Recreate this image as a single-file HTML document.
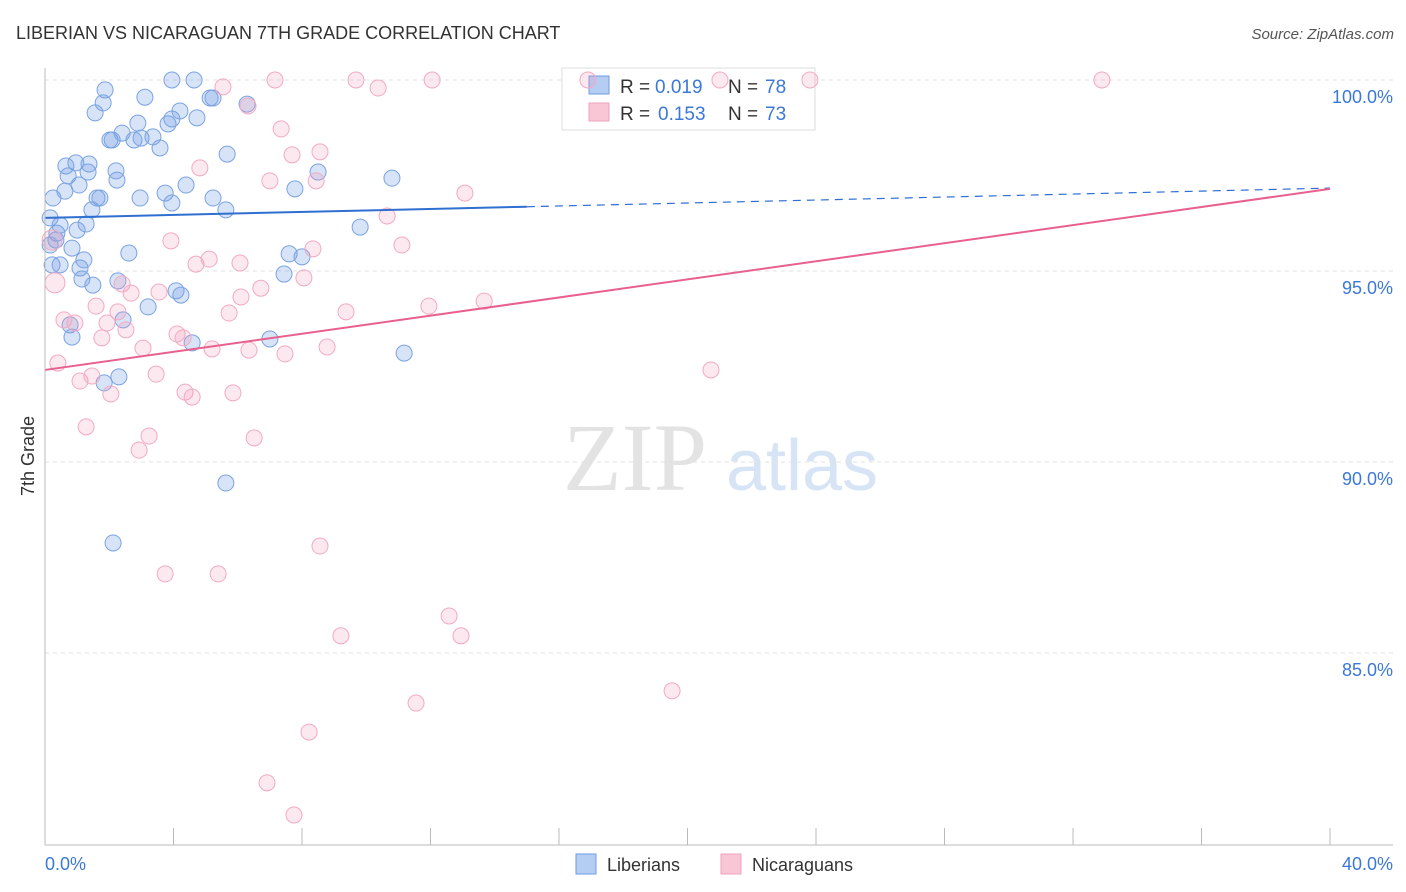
<!DOCTYPE html>
<html><head><meta charset="utf-8"><style>
body{margin:0;background:#fff;font-family:"Liberation Sans",sans-serif;}
svg{display:block}
</style></head><body>
<svg id="c" width="1406" height="892">
<text x="16" y="39" font-size="18" fill="#333">LIBERIAN VS NICARAGUAN 7TH GRADE CORRELATION CHART</text>
<text x="1394" y="39" font-size="15" fill="#555" font-style="italic" text-anchor="end">Source: ZipAtlas.com</text>
<text x="34" y="456" font-size="18" fill="#333" text-anchor="middle" transform="rotate(-90 34 456)">7th Grade</text>
<g><text x="635" y="490" font-size="96" fill="#e3e3e3" text-anchor="middle" font-family="Liberation Serif,serif">ZIP</text><text x="802" y="490" font-size="72" fill="#d6e4f5" text-anchor="middle">atlas</text></g>
<g id="grid"></g>
<g>
<rect x="562" y="68" width="253" height="62" fill="#fff" stroke="#ddd"/>
<rect x="589" y="76" width="20" height="18" fill="#b5cdf3" stroke="#6d9be0"/>
<text x="620" y="93" font-size="19" fill="#333">R =</text>
<text x="655" y="93" font-size="19" fill="#3b78d8">0.019</text>
<text x="728" y="93" font-size="19" fill="#333">N =</text>
<text x="765" y="93" font-size="19" fill="#3b78d8">78</text>
<rect x="589" y="103" width="20" height="18" fill="#f9c6d6" stroke="#f0a0bc"/>
<text x="620" y="120" font-size="19" fill="#333">R =</text>
<text x="658" y="120" font-size="19" fill="#3b78d8">0.153</text>
<text x="728" y="120" font-size="19" fill="#333">N =</text>
<text x="765" y="120" font-size="19" fill="#3b78d8">73</text>
</g>
<g id="pts"></g><g id="trend"></g>
<line x1="45" y1="68" x2="45" y2="845" stroke="#bbb"/>
<line x1="45" y1="845" x2="1393" y2="845" stroke="#bbb"/>
<text x="45" y="870" font-size="18" fill="#3b78d8">0.0%</text>
<text x="1393" y="870" font-size="18" fill="#3b78d8" text-anchor="end">40.0%</text>
<g>
<rect x="576" y="854" width="20" height="20" fill="#b5cdf3" stroke="#6d9be0"/>
<text x="607" y="871" font-size="18" fill="#333">Liberians</text>
<rect x="721" y="854" width="20" height="20" fill="#f9c6d6" stroke="#f0a0bc"/>
<text x="752" y="871" font-size="18" fill="#333">Nicaraguans</text>
</g>
</svg>
<script>
const yTicks=[100,95,90,85];
const yTickLabels=["100.0%","95.0%","90.0%","85.0%"];
const xTicks=[0,4,8,12,16,20,24,28,32,36,40];
const libX=[.16,.25,.37,.47,.65,.72,.62,.96,1.06,1.37,1.34,1.46,1.62,1.71,1.28,1.0,.84,.34,.16,.22,.47,1.09,1.21,1.15,1.49,.78,.84,1.84,2.3,2.12,2.43,3.21,2.27,2.61,1.87,1.81,1.56,2.02,2.09,2.4,2.77,2.99,2.89,3.11,3.36,3.58,3.83,3.95,3.95,4.2,4.64,4.73,5.14,5.23,5.67,6.29,3.74,3.95,4.39,5.23,5.63,4.08,4.23,4.58,5.63,7.78,8.5,7.0,7.44,7.6,8.0,9.81,10.8,11.18,2.24,2.96,2.21];
const libY=[96.39,96.91,95.99,96.2,97.75,97.49,97.09,97.83,97.25,97.8,97.59,96.6,96.91,96.91,96.23,96.07,95.6,95.81,95.68,95.16,95.16,95.08,95.29,94.79,94.63,93.59,93.27,92.07,92.23,87.88,93.72,94.06,94.74,95.47,99.74,99.4,99.14,98.43,98.43,98.61,98.43,98.48,98.87,99.55,98.51,98.22,98.85,98.98,100,99.19,100,99.01,99.53,99.53,98.06,99.37,97.04,96.78,97.25,96.91,96.6,94.48,94.37,93.12,89.45,97.15,97.59,93.22,94.92,95.45,95.37,96.15,97.43,92.85,97.38,96.91,97.62];
const nicX=[.31,.22,.4,.59,.93,1.09,1.28,1.59,1.46,1.77,1.93,2.05,2.27,2.4,2.52,2.68,2.93,3.24,3.05,3.46,3.55,3.74,3.92,4.11,4.3,4.36,4.58,4.7,4.82,5.11,5.2,5.39,5.73,5.85,6.07,6.1,6.35,6.51,6.72,7.0,7.16,7.35,7.47,7.69,8.06,8.34,8.44,8.56,8.56,8.78,8.22,7.75,6.91,5.54,6.32,9.21,9.37,9.68,10.37,10.65,11.11,11.55,11.95,12.05,12.58,12.95,13.07,13.67,16.9,19.52,20.73,21.01,23.81,32.9];
const nicY=[94.69,95.81,92.59,93.72,93.64,92.12,90.92,94.08,92.25,93.25,93.64,91.78,93.93,94.66,93.46,94.42,90.31,90.68,92.98,92.3,94.45,87.07,95.79,93.35,93.25,91.83,91.7,95.18,97.7,95.31,92.96,87.07,93.9,91.81,95.21,94.32,92.93,90.63,94.55,97.36,100,98.72,92.83,98.04,94.82,95.58,97.36,87.8,98.12,93.01,82.93,80.76,81.6,99.82,99.32,85.45,93.93,100,99.79,96.44,95.68,83.69,94.08,100,85.97,85.45,97.04,94.21,100,84.01,92.41,100,100,100];
const libTrend=[96.39,97.17];
const nicTrend=[92.41,97.15];
const NS="http://www.w3.org/2000/svg";
const sx=v=>45+v*32.125, sy=v=>80+(100-v)*38.2;
function mk(t,a,p){const e=document.createElementNS(NS,t);for(const k in a)e.setAttribute(k,a[k]);p.appendChild(e);return e;}
const grid=document.getElementById('grid');
yTicks.forEach((v,i)=>{
 const l=mk('line',{x1:45,x2:1393,y1:sy(v),y2:sy(v),stroke:'#e2e2e2','stroke-dasharray':'4,4'},grid);
 
 
 const t=mk('text',{x:1393,y:sy(v)+23,'font-size':18,fill:'#3b78d8','text-anchor':'end'},grid);
 t.textContent=yTickLabels[i];
 
 
});
xTicks.forEach(v=>{
 const l=mk('line',{x1:sx(v),x2:sx(v),y1:828,y2:845,stroke:'#bbb'},grid);
 
 
});
const pts=document.getElementById('pts');
libX.forEach((x,i)=>{
 const c=mk('circle',{cx:sx(x),cy:sy(libY[i]),r:8,fill:'rgba(110,155,225,0.28)',stroke:'#7aa3e2','stroke-width':1},pts);
 
 
});
nicX.forEach((x,i)=>{
 const c=mk('circle',{cx:sx(x),cy:sy(nicY[i]),r:i<2?10:8,fill:'rgba(240,150,180,0.22)',stroke:'#f2aac2','stroke-width':1},pts);
 
 
});
const tr=document.getElementById('trend');
const ly=x=>libTrend[0]+(libTrend[1]-libTrend[0])*x/40;
let a=mk('line',{x1:sx(0),y1:sy(ly(0)),x2:sx(15),y2:sy(ly(15)),stroke:'#2f6fd0','stroke-width':2},tr);


a=mk('line',{x1:sx(15),y1:sy(ly(15)),x2:sx(40),y2:sy(ly(40)),stroke:'#2f6fd0','stroke-width':1.2,'stroke-dasharray':'8,6'},tr);


a=mk('line',{x1:sx(0),y1:sy(nicTrend[0]),x2:sx(40),y2:sy(nicTrend[1]),stroke:'#e8608c','stroke-width':2},tr);


</script>
</body></html>
